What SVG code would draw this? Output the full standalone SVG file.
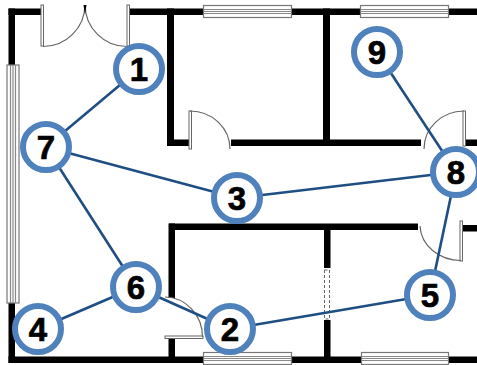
<svg xmlns="http://www.w3.org/2000/svg" width="477" height="365" viewBox="0 0 477 365">
<style>
.wall{fill:#000}
.win{fill:#fff;stroke:#777;stroke-width:1.200}
.winl{stroke:#888;stroke-width:1.200;fill:none}
.jamb{fill:#fff;stroke:#666;stroke-width:1}
.swing{fill:none;stroke:#666;stroke-width:1.200}
.link{stroke:#1f4e85;stroke-width:2.600;fill:none}
.ring{fill:#fff;stroke:#4f81bd;stroke-width:6}
.num{font-family:"Liberation Sans",Arial,sans-serif;font-weight:bold;font-size:33px;fill:#000;stroke:#000;stroke-width:0.700;text-anchor:middle}
</style>
<g id="plan">
<rect class="wall" x="8.500" y="8.500" width="32.500" height="6.500"/>
<rect class="wall" x="8.500" y="8.500" width="6.500" height="56.500"/>
<rect class="wall" x="129" y="8.500" width="74" height="6.500"/>
<rect class="wall" x="292" y="8.500" width="68" height="6.500"/>
<rect class="wall" x="449" y="8.500" width="28" height="6.500"/>
<rect class="wall" x="167" y="8.500" width="7" height="137.500"/>
<rect class="wall" x="167" y="139.500" width="22" height="6.500"/>
<rect class="wall" x="231" y="139.500" width="190" height="6.500"/>
<rect class="wall" x="323" y="8.500" width="7" height="137.500"/>
<rect class="wall" x="466" y="139.500" width="11" height="6.500"/>
<rect class="wall" x="169" y="223.500" width="249" height="6.500"/>
<rect class="wall" x="463" y="225" width="14" height="6.500"/>
<rect class="wall" x="168.500" y="223.500" width="6.500" height="74.500"/>
<rect class="wall" x="168.500" y="338" width="6.500" height="22"/>
<rect class="wall" x="324" y="224" width="6.500" height="44"/>
<rect class="wall" x="324" y="320" width="6.500" height="40"/>
<rect class="wall" x="8.500" y="303" width="6.500" height="60"/>
<rect class="wall" x="8.500" y="356.500" width="194.500" height="6.500"/>
<rect class="wall" x="292" y="356.500" width="69" height="6.500"/>
<rect class="wall" x="449" y="356.500" width="28" height="6.500"/>
<rect x="324.500" y="270" width="5" height="49" fill="#fff" stroke="#666" stroke-width="1" stroke-dasharray="3 2"/>
<rect class="win" x="7" y="65" width="12" height="238"/>
<path class="winl" d="M10.500 65V303M13 65V303M15.500 65V303"/>
<rect class="win" x="203.500" y="5.500" width="88" height="12"/>
<path class="winl" d="M204 9.500H291M204 11.500H291M204 13.500H291"/>
<rect class="win" x="360.500" y="5.500" width="88" height="12"/>
<path class="winl" d="M361 9.500H448M361 11.500H448M361 13.500H448"/>
<rect class="win" x="203.500" y="352.500" width="88" height="12"/>
<path class="winl" d="M204 356.500H291M204 358.500H291M204 360.500H291"/>
<rect class="win" x="361.500" y="352.500" width="87" height="12"/>
<path class="winl" d="M362 356.500H448M362 358.500H448M362 360.500H448"/>
<rect class="jamb" x="41" y="5" width="2.500" height="41"/>
<rect class="jamb" x="127" y="5" width="2.500" height="41"/>
<path class="swing" d="M43 46.500A42 42 0 0 0 85 5"/>
<path class="swing" d="M127 46.500A42 42 0 0 1 85 5"/>
<path d="M83.500 5H86.500L85 14Z" fill="#000"/>
<rect class="jamb" x="189" y="111" width="2.500" height="38"/>
<path class="swing" d="M190 111A40 38 0 0 1 230 149"/>
<rect class="jamb" x="463" y="111" width="2.500" height="35"/>
<path class="swing" d="M464 111A40 38 0 0 0 424 149"/>
<rect class="jamb" x="165" y="336" width="38" height="2.500"/>
<path class="swing" d="M202.500 337A38 40 0 0 0 165 297"/>
<rect class="jamb" x="460" y="221" width="2.500" height="40"/>
<path class="swing" d="M461 260.500A41 36 0 0 1 420 226"/>
</g>
<g id="connectors">
<line class="link" x1="139" y1="69" x2="46" y2="147"/>
<line class="link" x1="46" y1="147" x2="237" y2="198"/>
<line class="link" x1="46" y1="147" x2="136" y2="287"/>
<line class="link" x1="237" y1="198" x2="456" y2="172"/>
<line class="link" x1="377" y1="52" x2="456" y2="172"/>
<line class="link" x1="456" y1="172" x2="430" y2="295"/>
<line class="link" x1="430" y1="295" x2="230" y2="329"/>
<line class="link" x1="136" y1="287" x2="230" y2="329"/>
<line class="link" x1="136" y1="287" x2="38" y2="329"/>
</g>
<g id="node1"><circle class="ring" cx="139" cy="69" r="23"/><text class="num" x="139" y="81">1</text></g>
<g id="node2"><circle class="ring" cx="230" cy="329" r="23"/><text class="num" x="230" y="341">2</text></g>
<g id="node3"><circle class="ring" cx="237" cy="198" r="23"/><text class="num" x="237" y="210">3</text></g>
<g id="node4"><circle class="ring" cx="38" cy="329" r="23"/><text class="num" x="38" y="341">4</text></g>
<g id="node5"><circle class="ring" cx="430" cy="295" r="23"/><text class="num" x="430" y="307">5</text></g>
<g id="node6"><circle class="ring" cx="136" cy="287" r="23"/><text class="num" x="136" y="299">6</text></g>
<g id="node7"><circle class="ring" cx="46" cy="147" r="23"/><text class="num" x="46" y="159">7</text></g>
<g id="node8"><circle class="ring" cx="456" cy="172" r="23"/><text class="num" x="456" y="184">8</text></g>
<g id="node9"><circle class="ring" cx="377" cy="52" r="23"/><text class="num" x="377" y="64">9</text></g>
</svg>
